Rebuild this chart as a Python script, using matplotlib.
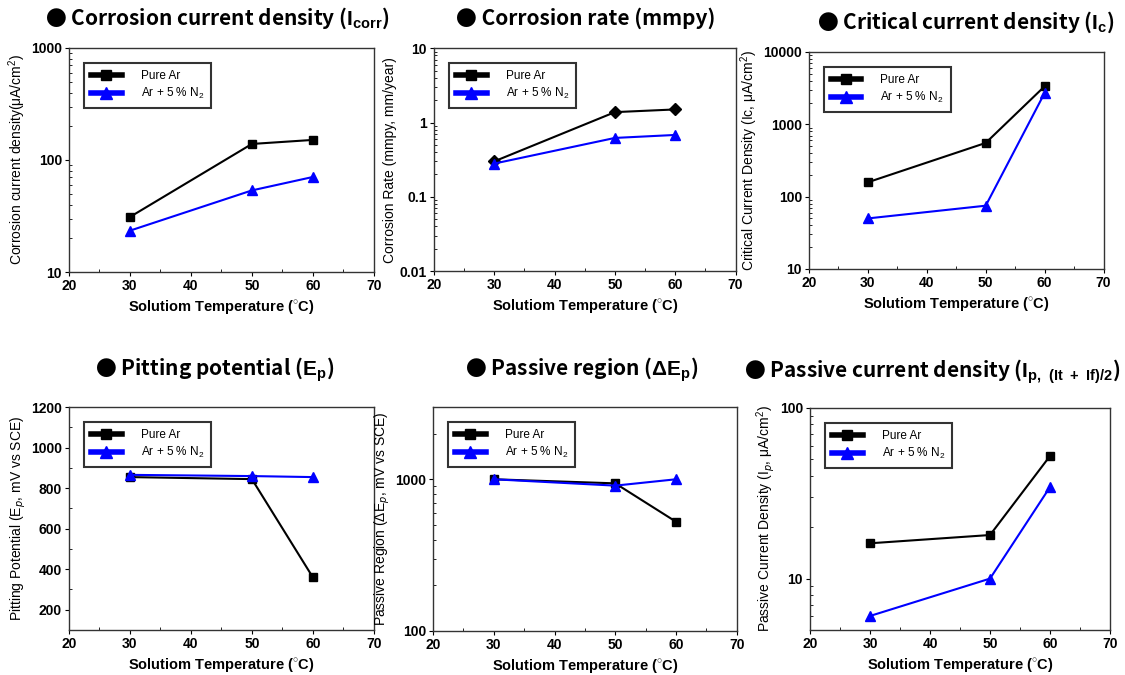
import numpy as np
import matplotlib
matplotlib.use('Agg')
import matplotlib.pyplot as plt
from matplotlib.lines import Line2D
from matplotlib.ticker import MultipleLocator, FuncFormatter, NullFormatter

plt.rcParams['font.family'] = ['Liberation Sans', 'DejaVu Sans']
plt.rcParams['mathtext.fontset'] = 'custom'
plt.rcParams['mathtext.rm'] = 'Liberation Sans'
plt.rcParams['mathtext.bf'] = 'Liberation Sans:bold'

temp = [30, 50, 60]

# panel data (Pure Ar, Ar + 5 % N2)
icorr_ar = [31, 139, 151]
icorr_n2 = [23.4, 53.5, 70.5]
rate_ar = [0.30, 1.38, 1.50]
rate_n2 = [0.28, 0.62, 0.68]
ic_ar = [158, 553, 3360]
ic_n2 = [50, 75, 2720]
ep_ar = [855, 845, 360]
ep_n2 = [866, 860, 855]
dep_ar = [1000, 940, 525]
dep_n2 = [1000, 908, 1000]
ip_ar = [16.1, 18.0, 52.3]
ip_n2 = [6.04, 10.0, 34.4]

titles = [
    'Corrosion current density ($\\mathbf{I_{corr}}$)',
    'Corrosion rate (mmpy)',
    'Critical current density ($\\mathbf{I_c}$)',
    'Pitting potential ($\\mathbf{E_p}$)',
    'Passive region ($\\mathbf{\\Delta E_p}$)',
    'Passive current density ($\\mathbf{I_{p,\\ (It\\ +\\ If)/2}}$)',
]
ylabels = [
    'Corrosion current density(\u03bcA/cm$^2$)',
    'Corrosion Rate (mmpy, mm/year)',
    'Critical Current Density (Ic, \u03bcA/cm$^2$)',
    'Pitting Potential (E$_p$, mV vs SCE)',
    'Passive Region (\u0394E$_p$, mV vs SCE)',
    'Passive Current Density (I$_p$, \u03bcA/cm$^2$)',
]
series = [(icorr_ar, icorr_n2), (rate_ar, rate_n2), (ic_ar, ic_n2),
          (ep_ar, ep_n2), (dep_ar, dep_n2), (ip_ar, ip_n2)]
ylims = [(10, 1000), (0.01, 10), (10, 10000), (100, 1200), (100, 3000), (5, 100)]
logy = [True, True, True, False, True, True]

rects = [
    [0.0613, 0.597, 0.271, 0.332],
    [0.3858, 0.5985, 0.268, 0.330],
    [0.719, 0.6015, 0.262, 0.3215],
    [0.0613, 0.0667, 0.271, 0.330],
    [0.3849, 0.0652, 0.270, 0.332],
    [0.720, 0.0667, 0.2667, 0.329],
]
title_pos = [(217, 18, 'center'), (586, 18, 'center'), (966, 22, 'center'),
             (215, 370, 'center'), (582, 370, 'center'), (1121, 372, 'right')]


def plain(v, pos):
    return '%g' % v


fig = plt.figure(figsize=(11.25, 6.75), dpi=100)

for i in range(6):
    ax = fig.add_axes(rects[i])
    ar, n2 = series[i]
    mk_ar = 'D' if i == 1 else 's'
    ax.plot(temp, ar, color='black', marker=mk_ar, markersize=6, linewidth=1.5)
    ax.plot(temp, n2, color='blue', marker='^', markersize=7, linewidth=1.5)
    if logy[i]:
        ax.set_yscale('log')
        ax.yaxis.set_major_formatter(FuncFormatter(plain))
        ax.yaxis.set_minor_formatter(NullFormatter())
    else:
        ax.set_yticks([200, 400, 600, 800, 1000, 1200])
        ax.yaxis.set_minor_locator(MultipleLocator(100))
    ax.set_ylim(ylims[i])
    ax.set_xlim(20, 70)
    ax.set_xticks([20, 30, 40, 50, 60, 70])
    ax.xaxis.set_minor_locator(MultipleLocator(5))
    ax.tick_params(which='major', direction='out', length=3, labelsize=10, pad=2)
    ax.tick_params(which='minor', direction='in', length=2.5)
    for lab in ax.get_xticklabels() + ax.get_yticklabels():
        lab.set_fontweight('bold')
    for s in ax.spines.values():
        s.set_color('#333333')
        s.set_linewidth(1.0)
    ax.set_ylabel(ylabels[i], fontsize=10, labelpad=2)
    ax.set_xlabel('Solutiom Temperature ($^{\\circ}$C)', fontsize=10.5, fontweight='bold', labelpad=4)
    handles = [Line2D([], [], color='black', marker='s', linewidth=4, markersize=7),
               Line2D([], [], color='blue', marker='^', linewidth=4, markersize=8)]
    leg = ax.legend(handles, ['Pure Ar', 'Ar + 5 % N$_2$'], loc='upper left',
                    fontsize=8.5, frameon=True, fancybox=False, handlelength=2.6,
                    borderpad=0.6, labelspacing=0.35, handletextpad=1.6,
                    bbox_to_anchor=(0.03, 0.96))
    leg.get_frame().set_edgecolor('black')
    leg.get_frame().set_linewidth(1.5)
    tx, ty, tha = title_pos[i]
    fig.text(tx / 1125, 1 - ty / 675, '\u25cf ' + titles[i], fontsize=15,
             fontweight='bold', ha=tha, va='center',
             family=['Noto Sans CJK KR', 'DejaVu Sans'])

fig.savefig('out.png', dpi=100)
